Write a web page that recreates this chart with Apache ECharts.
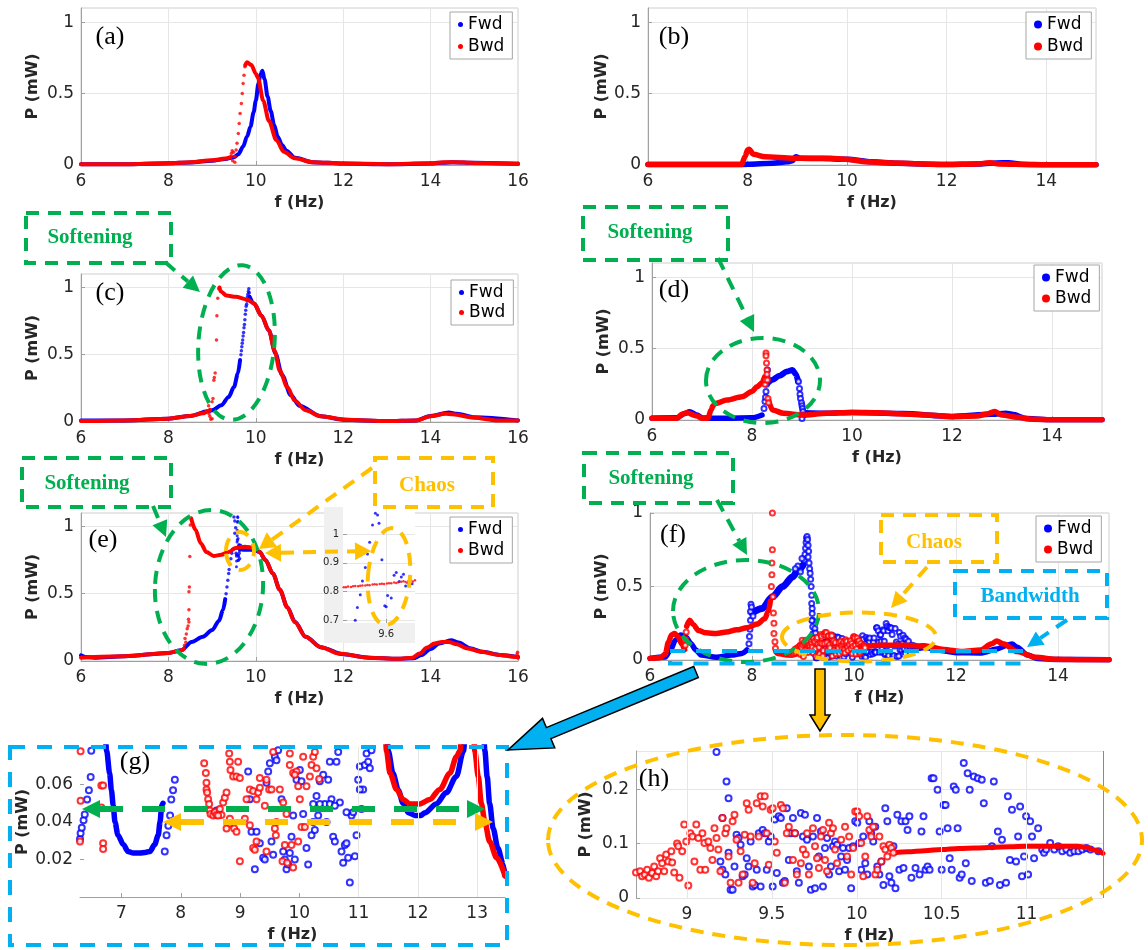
<!DOCTYPE html>
<html><head><meta charset="utf-8">
<script src="https://cdn.jsdelivr.net/npm/echarts@6/dist/echarts.min.js"></script>
<style>html,body{margin:0;padding:0;background:#fff}#c{width:1148px;height:950px}</style>
</head><body><div id="c"></div>
<script>
// ---------------- DATA (f in Hz, P in mW) ----------------
// (a)
const A_FWD = [[6,0.005],[7,0.005],[8,0.012],[8.5,0.018],[9,0.03],[9.3,0.042],[9.5,0.055],[9.6,0.075],[9.71,0.13],[9.8,0.2],[9.88,0.27],[9.95,0.37],[10.0,0.45],[10.06,0.57],[10.11,0.64],[10.15,0.66],[10.2,0.6],[10.27,0.48],[10.34,0.38],[10.42,0.28],[10.5,0.2],[10.6,0.14],[10.7,0.1],[10.9,0.05],[11.3,0.02],[12,0.01],[13,0.005],[14,0.01],[14.5,0.02],[15,0.015],[16,0.008]];
const A_BWD1 = [[6,0.006],[7,0.006],[8,0.012],[8.5,0.02],[9,0.033],[9.3,0.045],[9.42,0.055]];
const A_BWD_DOTS = [[9.44,0.08],[9.46,0.1],[9.47,0.03],[9.49,0.09],[9.5,0.06],[9.52,0.02],[9.53,0.058],[9.55,0.105],[9.57,0.152],[9.6,0.221],[9.62,0.291],[9.64,0.361],[9.67,0.431],[9.69,0.501],[9.71,0.571],[9.73,0.629],[9.75,0.688]];
const A_BWD2 = [[9.76,0.7],[9.8,0.72],[9.9,0.7],[10.0,0.64],[10.05,0.61],[10.17,0.45],[10.3,0.31],[10.47,0.175],[10.64,0.093],[10.89,0.047],[11.3,0.02],[12,0.01],[13,0.006],[14,0.012],[14.3,0.02],[14.6,0.02],[15,0.014],[16,0.008]];
// (b)
const B_FWD = [[6,0.003],[7,0.003],[7.9,0.003],[8.0,0.005],[8.5,0.012],[8.8,0.022],[8.9,0.03],[8.97,0.058],[9.05,0.047],[9.5,0.045],[10,0.04],[10.5,0.022],[11,0.012],[12,0.003],[12.6,0.007],[13.0,0.014],[13.25,0.016],[13.5,0.006],[14,0.002],[15,0.002]];
const B_BWD = [[6,0.003],[7,0.003],[7.88,0.003],[7.95,0.06],[8.0,0.105],[8.03,0.11],[8.12,0.075],[8.35,0.058],[8.93,0.047],[9.67,0.047],[9.96,0.04],[10.4,0.023],[10.77,0.016],[11.5,0.007],[12,0.003],[12.6,0.007],[12.87,0.016],[13.05,0.007],[13.7,0.002],[15,0.002]];
// (c)
const C_FWD1 = [[6,0.012],[7,0.012],[8,0.025],[8.5,0.045],[8.9,0.08],[9.0,0.087],[9.21,0.124],[9.38,0.186],[9.5,0.26],[9.59,0.36],[9.64,0.46]];
const C_FWD_DOTS = [[9.66,0.5],[9.67,0.53],[9.68,0.56],[9.69,0.585],[9.7,0.61],[9.71,0.64],[9.72,0.665],[9.73,0.7],[9.74,0.725],[9.75,0.76],[9.76,0.8],[9.77,0.83],[9.78,0.86],[9.79,0.875],[9.8,0.9],[9.81,0.93],[9.82,0.95],[9.83,0.97],[9.84,0.99],[9.85,0.96]];
const C_FWD2 = [[9.86,0.93],[9.96,0.88],[10.13,0.79],[10.3,0.68],[10.45,0.51],[10.6,0.35],[10.8,0.2],[11.0,0.12],[11.5,0.042],[12,0.017],[13,0.007],[13.67,0.012],[14,0.045],[14.42,0.07],[14.6,0.062],[15,0.035],[16,0.012]];
const C_BWD1 = [[6,0.007],[7,0.012],[8,0.025],[8.5,0.045],[8.8,0.065],[8.9,0.08],[8.95,0.09]];
const C_BWD_DOTS = [[8.92,0.12],[8.93,0.06],[8.95,0.04],[8.97,0.02],[9.0,0.025],[9.0,0.15],[9.02,0.174],[9.04,0.31],[9.05,0.33],[9.07,0.365],[9.1,0.61],[9.11,0.79],[9.13,0.92],[9.15,0.99]];
const C_BWD2 = [[9.17,1.0],[9.2,0.97],[9.33,0.94],[9.54,0.93],[9.8,0.91],[9.96,0.88],[10.13,0.79],[10.3,0.68],[10.43,0.53],[10.55,0.38],[10.72,0.26],[10.89,0.16],[11.14,0.087],[11.48,0.042],[12.07,0.017],[13,0.007],[13.67,0.012],[14,0.042],[14.34,0.062],[14.5,0.057],[15,0.032],[15.5,0.012],[16,0.012]];
// (d)
const D_FWD1 = [[6,0.012],[6.5,0.015],[6.65,0.045],[6.75,0.058],[6.9,0.035],[7.0,0.015],[7.2,0.012],[7.5,0.012],[8.0,0.015],[8.2,0.035]];
const D_FWD_DOTS = [[8.24,0.08],[8.26,0.13],[8.27,0.16],[8.28,0.2],[8.29,0.25],[8.3,0.3],[8.31,0.35],[8.93,0.27],[8.95,0.22],[8.96,0.18],[8.97,0.15],[8.99,0.12],[9.0,0.1],[9.01,0.08],[9.02,0.06],[9.03,0.035],[9.0,0.01]];
const D_FWD2 = [[8.32,0.26],[8.4,0.28],[8.55,0.31],[8.7,0.34],[8.81,0.35],[8.88,0.32],[8.92,0.27]];
const D_FWD3 = [[9.05,0.05],[9.5,0.047],[10,0.053],[11,0.045],[12,0.025],[12.8,0.04],[13.08,0.047],[13.2,0.04],[13.5,0.01],[14,0.002],[15,0.002]];
const D_BWD1 = [[6,0.012],[6.5,0.012],[6.6,0.04],[6.7,0.05],[6.9,0.028],[7.0,0.012],[7.12,0.012],[7.18,0.07],[7.22,0.1],[7.27,0.116],[7.5,0.14],[7.8,0.163],[8.0,0.2],[8.1,0.233],[8.2,0.26],[8.25,0.3]];
const D_BWD_DOTS = [[8.26,0.25],[8.27,0.28],[8.28,0.47],[8.28,0.45],[8.29,0.4],[8.3,0.35],[8.3,0.32],[8.31,0.28],[8.32,0.15],[8.33,0.12]];
const D_BWD2 = [[8.33,0.14],[8.41,0.07],[8.63,0.047],[9.0,0.035],[9.5,0.047],[10,0.053],[10.5,0.051],[11,0.042],[11.5,0.035],[12,0.023],[12.5,0.028],[12.7,0.042],[12.85,0.06],[13,0.035],[13.3,0.019],[13.6,0.005],[14,0.002],[15,0.002]];
// (e)
const E_FWD1 = [[6,0.042],[6.1,0.03],[6.3,0.025],[7,0.035],[8,0.06],[8.3,0.08],[8.53,0.142],[8.79,0.18],[9.0,0.23],[9.16,0.3],[9.25,0.38],[9.3,0.46]];
const E_FWD_DOTS = [[9.32,0.5],[9.34,0.55],[9.36,0.6],[9.38,0.65],[9.39,0.68],[9.41,0.72],[9.43,0.76],[9.45,0.8],[9.47,0.83],[9.5,1.07],[9.52,1.04],[9.52,0.95],[9.54,0.99],[9.55,0.8],[9.56,0.78],[9.58,0.9],[9.6,0.85],[9.62,0.8],[9.63,0.76],[9.65,0.86]];
const E_FWD2 = [[9.66,0.83],[9.75,0.826],[9.96,0.826],[10.09,0.81],[10.22,0.75],[10.39,0.65],[10.55,0.53],[10.72,0.4],[10.9,0.29],[11.14,0.18],[11.5,0.1],[12,0.05],[12.6,0.025],[13.25,0.017],[13.6,0.02],[13.8,0.045],[14.0,0.09],[14.2,0.13],[14.47,0.154],[14.64,0.137],[14.9,0.095],[15.2,0.068],[15.6,0.045],[16,0.03]];
const E_BWD1 = [[6,0.025],[7,0.035],[8,0.06],[8.2,0.072],[8.3,0.08],[8.35,0.09]];
const E_BWD_DOTS = [[8.37,0.117],[8.38,0.167],[8.4,0.14],[8.41,0.2],[8.43,0.24],[8.45,0.26],[8.46,0.31],[8.47,0.29],[8.47,0.38],[8.47,0.515],[8.48,0.55],[8.49,0.776],[8.5,1.01],[15.98,0.05],[15.99,0.065],[16,0.02]];
const E_BWD2 = [[8.52,1.06],[8.62,0.975],[8.74,0.875],[8.87,0.81],[9.04,0.78],[9.21,0.79],[9.38,0.81],[9.54,0.84],[9.75,0.85],[9.96,0.84],[10.09,0.81],[10.22,0.75],[10.39,0.65],[10.55,0.53],[10.72,0.4],[10.89,0.29],[11.14,0.18],[11.48,0.104],[11.9,0.055],[12.57,0.025],[13.25,0.017],[13.58,0.025],[13.75,0.055],[13.92,0.1],[14.09,0.13],[14.26,0.142],[14.42,0.142],[14.6,0.124],[14.85,0.092],[15.18,0.067],[15.52,0.047],[15.94,0.03],[16,0.03]];
// (e) inset
const E_INSET_FWD = [[9.557,0.700],[9.560,0.744],[9.564,0.789],[9.567,0.837],[9.571,0.884],[9.574,0.931],[9.577,0.972],[9.581,1.032],[9.585,1.073],[9.588,1.067],[9.590,1.038],[9.594,0.911],[9.598,0.750],[9.600,0.747],[9.602,0.786],[9.607,0.777],[9.611,0.857],[9.614,0.866],[9.618,0.835],[9.621,0.851],[9.624,0.860],[9.627,0.819],[9.630,0.830],[9.636,0.827]];
const E_INSET_BWD = [[9.541,0.815],[9.544,0.815],[9.547,0.817],[9.551,0.816],[9.554,0.818],[9.557,0.819],[9.561,0.818],[9.564,0.820],[9.567,0.821],[9.571,0.821],[9.574,0.823],[9.577,0.822],[9.581,0.824],[9.584,0.825],[9.587,0.824],[9.591,0.826],[9.594,0.827],[9.597,0.826],[9.601,0.828],[9.604,0.829],[9.607,0.829],[9.611,0.831],[9.614,0.830],[9.617,0.832],[9.621,0.834],[9.624,0.836],[9.627,0.833],[9.631,0.837],[9.634,0.838],[9.637,0.835],[9.640,0.839]];
// (f)
const F_FWD1 = [[6,0.011],[6.3,0.02],[6.4,0.068],[6.5,0.136],[6.6,0.17],[6.7,0.158],[6.8,0.113],[6.9,0.068],[7.0,0.034],[7.3,0.018],[7.6,0.034],[7.8,0.045],[7.9,0.068]];
const F_FWD_DOTS = [[7.94,0.11],[7.95,0.16],[7.96,0.21],[7.97,0.27],[7.97,0.33],[7.98,0.38],[7.99,0.36],[8.02,0.3],[9.02,0.68],[9.04,0.72],[9.05,0.76],[9.06,0.8],[9.07,0.83],[9.08,0.84],[9.09,0.82],[9.1,0.78],[9.11,0.74],[9.1,0.7],[9.12,0.66],[9.13,0.62],[9.14,0.59],[9.15,0.55],[9.16,0.5],[9.17,0.44],[9.17,0.385],[9.18,0.35],[9.18,0.317],[9.19,0.27],[9.19,0.226],[9.2,0.18],[9.2,0.136],[8.9,0.64],[8.95,0.6],[8.85,0.62],[8.98,0.69]];
const F_FWD2 = [[8.0,0.32],[8.2,0.35],[8.4,0.43],[8.6,0.5],[8.8,0.566],[8.9,0.61],[9.0,0.645]];
const F_FWD3 = [[11.4,0.09],[11.7,0.065],[12,0.05],[12.5,0.048],[12.8,0.075],[13.0,0.1],[13.1,0.108],[13.2,0.086],[13.4,0.034],[13.6,0.011],[14,0.003],[15,0.002]];
const F_BWD1 = [[6,0.011],[6.2,0.016],[6.3,0.04],[6.36,0.12],[6.42,0.17],[6.48,0.18],[6.55,0.16],[6.62,0.11],[6.68,0.07]];
const F_BWD_DOTS = [[6.69,0.1],[6.7,0.14],[6.71,0.19],[8.38,0.5],[8.39,0.58],[8.39,0.66],[8.4,0.75],[8.4,1.0],[8.41,0.43],[8.42,0.32],[8.43,0.25],[8.43,0.18],[8.45,0.124],[8.46,0.08]];
const F_BWD2 = [[6.72,0.23],[6.78,0.27],[6.85,0.24],[6.95,0.2],[7.1,0.185],[7.3,0.18],[7.5,0.19],[7.7,0.205],[7.9,0.22],[8.1,0.245],[8.25,0.28],[8.32,0.33],[8.36,0.4]];
const F_BWD3 = [[8.47,0.055],[8.5,0.045],[8.72,0.034],[8.93,0.045]];
const F_BWD4 = [[10.2,0.09],[10.5,0.1],[11.0,0.1],[11.4,0.095],[11.76,0.072],[12.12,0.057],[12.48,0.068],[12.7,0.11],[12.8,0.13],[12.92,0.11],[13.2,0.057],[13.57,0.018],[13.93,0.005],[14.5,0.002],[15,0.002]];
// (h) chaotic region, also used inside (f)
const H_FWD = [[9.174,0.268],[9.233,0.214],[9.245,0.183],[9.209,0.147],[9.197,0.067],[9.209,0.052],[9.226,0.043],[9.245,0.083],[9.257,0.015],[9.269,0.015],[9.280,0.058],[9.292,0.116],[9.304,0.110],[9.316,0.098],[9.328,0.040],[9.340,0.043],[9.352,0.073],[9.363,0.058],[9.375,0.104],[9.387,0.021],[9.399,0.024],[9.411,0.052],[9.423,0.119],[9.434,0.021],[9.446,0.125],[9.458,0.119],[9.470,0.052],[9.482,0.104],[9.493,0.113],[9.505,0.021],[9.517,0.144],[9.529,0.046],[9.541,0.150],[9.553,0.147],[9.565,0.028],[9.576,0.031],[9.588,0.165],[9.600,0.070],[9.612,0.119],[9.624,0.147],[9.636,0.119],[9.647,0.049],[9.659,0.028],[9.671,0.156],[9.683,0.113],[9.695,0.153],[9.707,0.107],[9.718,0.058],[9.730,0.015],[9.742,0.113],[9.754,0.018],[9.766,0.147],[9.777,0.076],[9.789,0.122],[9.801,0.021],[9.813,0.092],[9.825,0.110],[9.837,0.043],[9.848,0.058],[9.860,0.095],[9.872,0.104],[9.884,0.098],[9.896,0.049],[9.908,0.076],[9.919,0.092],[9.931,0.052],[9.943,0.070],[9.955,0.092],[9.967,0.018],[9.979,0.095],[9.991,0.141],[10.003,0.138],[10.014,0.101],[10.026,0.052],[10.038,0.113],[10.050,0.064],[10.062,0.043],[10.074,0.141],[10.085,0.119],[10.097,0.104],[10.109,0.131],[10.121,0.058],[10.133,0.043],[10.145,0.067],[10.157,0.024],[10.168,0.165],[10.180,0.141],[10.192,0.040],[10.204,0.028],[10.216,0.095],[10.228,0.018],[10.239,0.153],[10.251,0.052],[10.263,0.141],[10.275,0.055],[10.287,0.141],[10.299,0.125],[10.310,0.150],[10.322,0.037],[10.346,0.055],[10.370,0.043],[10.381,0.122],[10.393,0.150],[10.405,0.052],[10.417,0.058],[10.429,0.052],[10.441,0.220],[10.452,0.220],[10.476,0.199],[10.488,0.122],[10.500,0.052],[10.512,0.171],[10.523,0.171],[10.535,0.128],[10.547,0.073],[10.559,0.052],[10.571,0.205],[10.583,0.199],[10.594,0.128],[10.606,0.037],[10.618,0.043],[10.630,0.248],[10.642,0.064],[10.653,0.229],[10.665,0.199],[10.677,0.031],[10.689,0.223],[10.713,0.220],[10.736,0.217],[10.748,0.174],[10.760,0.028],[10.784,0.031],[10.796,0.095],[10.807,0.214],[10.831,0.122],[10.843,0.024],[10.855,0.107],[10.879,0.028],[10.890,0.187],[10.902,0.070],[10.914,0.162],[10.938,0.067],[10.950,0.113],[10.962,0.168],[10.973,0.040],[10.985,0.076],[10.997,0.150],[11.009,0.043],[11.021,0.141],[11.032,0.113],[11.044,0.073],[11.068,0.128],[11.092,0.089],[11.103,0.083],[11.115,0.089],[11.139,0.101],[11.163,0.089],[11.186,0.095],[11.210,0.086],[11.234,0.089],[11.257,0.083],[11.281,0.086],[11.305,0.086],[11.328,0.089],[11.352,0.092],[11.376,0.089],[11.423,0.086]];
const H_BWD = [[8.700,0.047],[8.724,0.049],[8.736,0.040],[8.752,0.043],[8.766,0.052],[8.776,0.037],[8.795,0.046],[8.807,0.058],[8.819,0.040],[8.830,0.049],[8.842,0.073],[8.854,0.064],[8.866,0.049],[8.878,0.080],[8.890,0.067],[8.908,0.086],[8.913,0.065],[8.925,0.047],[8.942,0.100],[8.949,0.095],[8.956,0.037],[8.972,0.086],[8.984,0.135],[8.996,0.104],[9.008,0.023],[9.020,0.119],[9.032,0.113],[9.044,0.067],[9.055,0.135],[9.067,0.110],[9.079,0.052],[9.091,0.119],[9.103,0.101],[9.108,0.052],[9.126,0.104],[9.138,0.092],[9.150,0.070],[9.162,0.128],[9.174,0.110],[9.185,0.089],[9.197,0.049],[9.209,0.147],[9.226,0.119],[9.233,0.128],[9.245,0.076],[9.257,0.028],[9.269,0.141],[9.280,0.153],[9.292,0.107],[9.304,0.028],[9.316,0.086],[9.328,0.043],[9.340,0.116],[9.352,0.174],[9.363,0.162],[9.375,0.113],[9.387,0.028],[9.399,0.064],[9.411,0.174],[9.423,0.113],[9.434,0.187],[9.446,0.168],[9.458,0.187],[9.470,0.119],[9.482,0.061],[9.493,0.162],[9.505,0.165],[9.517,0.104],[9.529,0.083],[9.553,0.171],[9.565,0.165],[9.576,0.028],[9.588,0.119],[9.600,0.131],[9.624,0.070],[9.636,0.119],[9.647,0.043],[9.671,0.064],[9.683,0.089],[9.700,0.080],[9.707,0.119],[9.718,0.043],[9.742,0.128],[9.754,0.095],[9.766,0.073],[9.777,0.055],[9.789,0.113],[9.801,0.125],[9.813,0.070],[9.825,0.049],[9.837,0.138],[9.848,0.119],[9.860,0.128],[9.872,0.089],[9.884,0.064],[9.908,0.107],[9.931,0.131],[9.943,0.076],[9.955,0.113],[9.967,0.043],[9.979,0.092],[9.991,0.159],[10.003,0.159],[10.014,0.150],[10.026,0.101],[10.038,0.040],[10.050,0.076],[10.062,0.150],[10.074,0.125],[10.085,0.113],[10.097,0.131],[10.109,0.043],[10.121,0.052],[10.133,0.113],[10.145,0.067],[10.157,0.095],[10.168,0.089],[10.180,0.076],[10.192,0.098],[10.204,0.092],[10.216,0.083]];
const H_BWD_LINE = [[10.22,0.083],[10.3,0.085],[10.4,0.087],[10.5,0.089],[10.6,0.091],[10.7,0.092],[10.8,0.093],[10.9,0.094],[11.0,0.095],[11.1,0.095],[11.2,0.095],[11.3,0.095],[11.35,0.093],[11.4,0.088],[11.45,0.082]];
// (g) zoom of (f) at low power
const G_FWD_PTS = [[6.30,0.031],[6.31,0.034],[6.33,0.037],[6.36,0.041],[6.38,0.044],[6.42,0.052],[6.45,0.057],[6.48,0.064],[6.49,0.078],[7.73,0.0243],[7.76,0.033],[7.79,0.038],[7.82,0.0435],[7.84,0.052],[7.87,0.057],[7.90,0.0626]];
const G_FWD_CHAOS = [[8.603,0.0461],[9.137,0.0670],[9.165,0.0522],[9.193,0.0348],[9.250,0.0148],[9.278,0.0348],[9.334,0.0287],[9.390,0.0209],[9.418,0.0200],[9.446,0.0609],[9.475,0.0670],[9.503,0.0713],[9.531,0.0296],[9.559,0.0226],[9.587,0.0748],[9.615,0.0730],[9.643,0.0783],[9.700,0.0522],[9.728,0.0243],[9.756,0.0200],[9.784,0.0148],[9.812,0.0174],[9.840,0.0235],[9.868,0.0322],[9.896,0.0435],[9.924,0.0200],[9.953,0.0626],[10.009,0.0678],[10.037,0.0617],[10.065,0.0443],[10.121,0.0261],[10.149,0.0174],[10.206,0.0330],[10.234,0.0400],[10.262,0.0357],[10.290,0.0539],[10.318,0.0435],[10.346,0.0617],[10.403,0.0652],[10.431,0.0496],[10.459,0.0400],[10.487,0.0626],[10.515,0.0722],[10.543,0.0522],[10.571,0.0322],[10.599,0.0296],[10.627,0.0722],[10.656,0.0774],[10.684,0.0504],[10.712,0.0243],[10.740,0.0183],[10.768,0.0278],[10.796,0.0287],[10.824,0.0209],[10.852,0.0078],[10.881,0.0435],[10.909,0.0452],[10.937,0.0217],[10.965,0.0330],[10.993,0.0626],[11.021,0.0696],[11.049,0.0470],[11.077,0.0574],[11.106,0.0704],[11.134,0.0765],[11.162,0.0722],[11.190,0.0687],[11.218,0.0783],[10.234,0.0496],[10.346,0.0496],[10.515,0.0496],[10.599,0.0487],[10.796,0.0452],[11.021,0.0574]];
const G_FWD_U1 = [[6.72,0.09],[6.75,0.078],[6.80,0.066],[6.83,0.057],[6.86,0.049],[6.89,0.040],[6.94,0.033],[7.03,0.028],[7.11,0.0243],[7.2,0.0235],[7.31,0.0235],[7.40,0.0238],[7.48,0.0243],[7.56,0.028],[7.62,0.033],[7.65,0.040],[7.68,0.049],[7.70,0.050]];
const G_FWD_U2 = [[11.48,0.09],[11.50,0.078],[11.58,0.066],[11.67,0.057],[11.75,0.050],[11.84,0.045],[11.95,0.0435],[12.05,0.0435],[12.12,0.045],[12.31,0.0496],[12.48,0.0557],[12.65,0.0643],[12.77,0.078],[12.80,0.09]];
const G_FWD_R = [[13.11,0.09],[13.13,0.078],[13.17,0.064],[13.21,0.050],[13.27,0.0365],[13.35,0.026],[13.44,0.0174],[13.47,0.0113]];
const G_BWD_PTS = [[6.31,0.0777],[6.31,0.0513],[6.30,0.0296],[6.66,0.0595],[6.69,0.0595],[6.66,0.0478],[6.69,0.0287],[6.69,0.0256]];
const G_BWD_CHAOS = [[8.395,0.0713],[8.423,0.0661],[8.434,0.0609],[8.434,0.0574],[8.445,0.0557],[8.462,0.0522],[8.479,0.0496],[8.490,0.0461],[8.502,0.0443],[8.547,0.0435],[8.575,0.0452],[8.603,0.0438],[8.659,0.0470],[8.687,0.0438],[8.715,0.0504],[8.743,0.0530],[8.772,0.0557],[8.817,0.0765],[8.828,0.0722],[8.839,0.0678],[8.884,0.0643],[8.940,0.0643],[8.997,0.0635],[8.968,0.0722],[8.901,0.0365],[8.817,0.0391],[8.828,0.0417],[8.940,0.0348],[8.997,0.0191],[9.109,0.0522],[9.165,0.0574],[9.221,0.0565],[9.278,0.0522],[9.306,0.0557],[9.334,0.0583],[9.221,0.0261],[9.250,0.0252],[9.334,0.0635],[9.418,0.0487],[9.446,0.0626],[9.491,0.0574],[9.559,0.0774],[9.587,0.0365],[9.615,0.0400],[9.604,0.0330],[9.728,0.0504],[9.756,0.0278],[9.784,0.0443],[9.840,0.0704],[9.896,0.0661],[9.953,0.0670],[9.981,0.0591],[10.009,0.0522],[10.037,0.0374],[10.093,0.0374],[10.121,0.0591],[10.178,0.0643],[10.206,0.0704],[10.234,0.0748],[10.262,0.0774],[10.065,0.0748],[9.981,0.0296],[9.868,0.0278],[9.924,0.0652],[9.446,0.0243],[9.165,0.0383],[9.081,0.0417],[9.278,0.0296],[8.772,0.0365],[8.631,0.0435],[10.290,0.0687],[10.335,0.0630],[9.840,0.0765],[9.531,0.0574],[9.671,0.0574],[9.716,0.0191],[9.795,0.0183],[9.896,0.0157]];
const G_BWD_U = [[11.45,0.09],[11.47,0.078],[11.53,0.066],[11.64,0.0574],[11.75,0.052],[11.87,0.0496],[12.03,0.0496],[12.2,0.052],[12.37,0.0574],[12.54,0.066],[12.65,0.0748],[12.71,0.078],[12.74,0.09]];
const G_BWD_R = [[12.94,0.09],[12.96,0.078],[13.02,0.064],[13.07,0.050],[13.13,0.040],[13.21,0.0296],[13.33,0.0209],[13.47,0.0113]];
// tick labels
const X_TICKS_G = [7,8,9,10,11,12,13];
const X_TICKS_H = [9,9.5,10,10.5,11];
const X_TICKS_IN = [9.6];
const Y_TICKS_IN = [0.7,0.8,0.9,1];

// ---------------- STYLE / LAYOUT ----------------
const BLUE='#0000ff', RED='#ff0000', GREEN='#00b050', ORANGE='#ffc000', CYAN='#00b0f0';
const AF='DejaVu Sans', TXT='#262626', AXC='#a0a0a0', GRC='#e6e6e6';
const GRIDS = [
 {left:81, top:8, width:437, height:157},
 {left:648, top:8, width:448, height:157},
 {left:81, top:274, width:437, height:148},
 {left:652, top:263, width:450, height:157},
 {left:81, top:513, width:437, height:148},
 {left:650, top:513, width:459, height:147},
 {left:80, top:747, width:425, height:150},
 {left:636, top:751, width:467, height:147},
 {left:343, top:507, width:72, height:116}
];
function mkX(gi,o){
  const a={type:'value',gridIndex:gi,min:o.min,max:o.max,name:o.noName?'':'f (Hz)',nameLocation:'middle',nameGap:30,
    nameTextStyle:{fontFamily:AF,fontWeight:'bold',fontSize:16,color:TXT},
    axisLine:{show:o.line!==false,onZero:false,lineStyle:{color:AXC}},
    axisTick:{show:true,inside:true,length:4,lineStyle:{color:AXC}},
    axisLabel:{fontFamily:AF,fontSize:o.fs||17,color:TXT,margin:o.margin||8},
    splitLine:{show:o.split!==false,lineStyle:{color:GRC,width:1}}, z:o.z||0};
  if(o.interval) a.interval=o.interval;
  if(o.cv){a.axisLabel.customValues=o.cv;a.axisTick.customValues=o.cv;}
  if(o.hideMax) a.axisLabel.showMaxLabel=false;
  return a;
}
function mkY(gi,o){
  const a={type:'value',gridIndex:gi,min:o.min,max:o.max,name:o.noName?'':'P (mW)',nameLocation:'middle',nameGap:o.gap||40,
    nameTextStyle:{fontFamily:AF,fontWeight:'bold',fontSize:16,color:TXT},
    axisLine:{show:o.line!==false,lineStyle:{color:AXC}},
    axisTick:{show:true,inside:true,length:4,lineStyle:{color:AXC}},
    axisLabel:{fontFamily:AF,fontSize:o.fs||17,color:TXT,margin:o.margin||7},
    splitLine:{show:o.split!==false,lineStyle:{color:GRC,width:1}}, z:o.z||0};
  if(o.interval) a.interval=o.interval;
  if(o.cv){a.axisLabel.customValues=o.cv;a.axisTick.customValues=o.cv;}
  if(o.hideMax) a.axisLabel.showMaxLabel=false;
  if(o.hideMin) a.axisLabel.showMinLabel=false;
  return a;
}
const xAxes=[
 mkX(0,{min:6,max:16,interval:2}), mkX(1,{min:6,max:15,interval:2,hideMax:true}),
 mkX(2,{min:6,max:16,interval:2}), mkX(3,{min:6,max:15,interval:2,hideMax:true}),
 mkX(4,{min:6,max:16,interval:2}), mkX(5,{min:6,max:15,interval:2,hideMax:true}),
 mkX(6,{min:6.3,max:13.47,cv:X_TICKS_G,split:false}),
 mkX(7,{min:8.7,max:11.45,cv:X_TICKS_H,split:false,line:false}),
 mkX(8,{min:9.54,max:9.64,cv:X_TICKS_IN,split:false,line:false,noName:true,fs:10,margin:6,z:6})
];
const yAxes=[
 mkY(0,{min:0,max:1.1,interval:0.5,hideMax:true}), mkY(1,{min:0,max:1.1,interval:0.5,hideMax:true,gap:38}),
 mkY(2,{min:0,max:1.1,interval:0.5,hideMax:true}), mkY(3,{min:0,max:1.1,interval:0.5,hideMax:true}),
 mkY(4,{min:0,max:1.1,interval:0.5,hideMax:true}), mkY(5,{min:0,max:1,interval:0.5}),
 mkY(6,{min:0,max:0.08,interval:0.02,hideMax:true,hideMin:true,split:false,line:false,gap:42}),
 mkY(7,{min:0,max:0.27,interval:0.1,hideMax:true,gap:42}),
 mkY(8,{min:0.69,max:1.095,cv:Y_TICKS_IN,split:false,line:false,noName:true,fs:10,margin:4,z:6})
];

const series=[];
function col(n){return n==='Fwd'?BLUE:RED;}
function L(gi,n,data,w){series.push({type:'line',name:n,xAxisIndex:gi,yAxisIndex:gi,data,symbol:'none',showSymbol:false,smooth:0.3,smoothMonotone:'x',
  lineStyle:{color:col(n),width:w,cap:'round',join:'round'},itemStyle:{color:col(n)},z:n==='Fwd'?3:4,silent:true,animation:false});}
function D(gi,n,data,size,ring,z){series.push({type:'scatter',name:n,xAxisIndex:gi,yAxisIndex:gi,data,symbol:ring?'emptyCircle':'circle',symbolSize:size,
  itemStyle:ring?{color:col(n),borderColor:col(n),borderWidth:2}:{color:col(n)},z:z||(n==='Fwd'?3:4),silent:true,animation:false});}
function GL(gi,xs,ys,extra){series.push({type:'scatter',xAxisIndex:gi,yAxisIndex:gi,data:[],silent:true,z:1,
  markLine:{silent:true,symbol:['none','none'],animation:false,label:{show:false},lineStyle:{color:GRC,type:'solid',width:1},
  data:[...xs.map(v=>({xAxis:v})),...ys.map(v=>({yAxis:v})),...(extra||[])]}});}

// (a)
L(0,'Fwd',A_FWD,4); L(0,'Bwd',A_BWD1,4); D(0,'Bwd',A_BWD_DOTS,3.5); L(0,'Bwd',A_BWD2,4);
// (b)
L(1,'Fwd',B_FWD,5.5); L(1,'Bwd',B_BWD,5.5);
// (c)
L(2,'Fwd',C_FWD1,4); D(2,'Fwd',C_FWD_DOTS,3.5); L(2,'Fwd',C_FWD2,4);
L(2,'Bwd',C_BWD1,4); D(2,'Bwd',C_BWD_DOTS,3.5); L(2,'Bwd',C_BWD2,4);
// (d)
L(3,'Fwd',D_FWD1,5.5); D(3,'Fwd',D_FWD_DOTS,5,true); L(3,'Fwd',D_FWD2,6); L(3,'Fwd',D_FWD3,5.5);
L(3,'Bwd',D_BWD1,5.5); D(3,'Bwd',D_BWD_DOTS,5,true); L(3,'Bwd',D_BWD2,5.5);
// (e)
L(4,'Fwd',E_FWD1,4); D(4,'Fwd',E_FWD_DOTS,3.5); D(4,'Fwd',E_INSET_FWD,3); L(4,'Fwd',E_FWD2,4);
L(4,'Bwd',E_BWD1,4); D(4,'Bwd',E_BWD_DOTS,3.5); L(4,'Bwd',E_BWD2,4);
// (e) inset
GL(8,X_TICKS_IN,Y_TICKS_IN);
D(8,'Fwd',E_INSET_FWD,3,false,7); D(8,'Bwd',E_INSET_BWD,2.5,false,8);
// (f)
L(5,'Fwd',F_FWD1,5.5); D(5,'Fwd',F_FWD_DOTS,5,true); L(5,'Fwd',F_FWD2,7); D(5,'Fwd',H_FWD,5,true); L(5,'Fwd',F_FWD3,5.5);
L(5,'Bwd',F_BWD1,5.5); D(5,'Bwd',F_BWD_DOTS,5,true); L(5,'Bwd',F_BWD2,5.5); L(5,'Bwd',F_BWD3,5.5); D(5,'Bwd',H_BWD,5,true); L(5,'Bwd',F_BWD4,5.5);
// (g)
GL(6,[11,12,13],[]);
D(6,'Fwd',G_FWD_PTS,6,true); D(6,'Fwd',G_FWD_CHAOS,6,true); L(6,'Fwd',G_FWD_U1,5.5); L(6,'Fwd',G_FWD_U2,5.5); L(6,'Fwd',G_FWD_R,5.5);
D(6,'Bwd',G_BWD_PTS,6,true); D(6,'Bwd',G_BWD_CHAOS,6,true); L(6,'Bwd',G_BWD_U,5.5); L(6,'Bwd',G_BWD_R,5.5);
// (h)
GL(7,[9,9.5,10,10.5,11],[],[{xAxis:11.45,lineStyle:{color:'#8a8a8a',width:1}}]);
D(7,'Fwd',H_FWD,6,true); D(7,'Bwd',H_BWD,6,true); L(7,'Bwd',H_BWD_LINE,5);

// legends
function lg(left,top,size,gap){return {data:['Fwd','Bwd'],orient:'vertical',left,top,icon:'circle',itemWidth:size,itemHeight:size,itemGap:gap,
  padding:[4,8,4,8],backgroundColor:'#fff',borderColor:'#a6a6a6',borderWidth:1,textStyle:{fontFamily:AF,fontSize:17,color:'#000'},selectedMode:false,z:10};}
const legends=[lg(450,12,5,5),lg(1026,12,8,5),lg(451,280,5,3),lg(1034,265,8,4),lg(450,517,5,4),lg(1036,516,8,4)];

// ---------------- ANNOTATIONS ----------------
const GR=[];
const DASH=[13,9], FANN='bold 21px "Liberation Serif"', FLAB='26px "Liberation Serif"';
function dbox(x,y,w,h,c,dash){GR.push({type:'rect',shape:{x,y,width:w,height:h},style:{fill:'none',stroke:c,lineWidth:4,lineDash:dash||DASH},z:20,silent:true});}
function txt(x,y,s,c,font){GR.push({type:'text',x,y,style:{text:s,fill:c,font,textAlign:'center',textVerticalAlign:'middle',align:'center',verticalAlign:'middle'},z:21,silent:true});}
function ell(cx,cy,rx,ry,rot,c){GR.push({type:'ellipse',x:cx,y:cy,rotation:rot,shape:{cx:0,cy:0,rx,ry},style:{fill:'none',stroke:c,lineWidth:4,lineDash:DASH},z:20,silent:true});}
function unit(a,b){const dx=b[0]-a[0],dy=b[1]-a[1],d=Math.hypot(dx,dy);return [dx/d,dy/d];}
function headPts(t,u,Lh,W){const bx=t[0]-u[0]*Lh,by=t[1]-u[1]*Lh;return [[t[0],t[1]],[bx-u[1]*W,by+u[0]*W],[bx+u[1]*W,by-u[0]*W]];}
function darr(from,tip,c,o){o=o||{};const Lh=o.L||16,W=o.W||8,u=unit(from,tip);
  const s=o.both?[from[0]+u[0]*Lh,from[1]+u[1]*Lh]:from, e=[tip[0]-u[0]*Lh,tip[1]-u[1]*Lh];
  GR.push({type:'line',shape:{x1:s[0],y1:s[1],x2:e[0],y2:e[1]},style:{stroke:c,lineWidth:o.lw||4,lineDash:o.dash||DASH},z:20,silent:true});
  GR.push({type:'polygon',shape:{points:headPts(tip,u,Lh,W)},style:{fill:c},z:20,silent:true});
  if(o.both)GR.push({type:'polygon',shape:{points:headPts(from,[-u[0],-u[1]],Lh,W)},style:{fill:c},z:20,silent:true});}
function barr(tail,tip,fill,s,h,Lh){const u=unit(tail,tip),px=-u[1],py=u[0],b=[tip[0]-u[0]*Lh,tip[1]-u[1]*Lh];
  const pts=[[tail[0]+px*s,tail[1]+py*s],[b[0]+px*s,b[1]+py*s],[b[0]+px*h,b[1]+py*h],[tip[0],tip[1]],[b[0]-px*h,b[1]-py*h],[b[0]-px*s,b[1]-py*s],[tail[0]-px*s,tail[1]-py*s]];
  GR.push({type:'polygon',shape:{points:pts},style:{fill,stroke:'#000',lineWidth:1.5},z:22,silent:true});}

// inset background
GR.push({type:'rect',shape:{x:324,y:507,width:91,height:136},style:{fill:'#f0f0f0'},z:1,silent:true});
GR.push({type:'rect',shape:{x:343,y:507,width:72,height:116},style:{fill:'#ffffff'},z:1,silent:true});

// Softening
dbox(26,213,145,50,GREEN); txt(90,238,'Softening',GREEN,FANN); darr([165,262],[200,292],GREEN); ell(236.5,342.5,38,77.5,-0.08,GREEN);
dbox(583,207,145,53,GREEN); txt(650,233,'Softening',GREEN,FANN); darr([718,258],[754,332],GREEN); ell(763,380.5,57,42.5,0,GREEN);
dbox(22,458,149,49,GREEN); txt(87,484,'Softening',GREEN,FANN); darr([153,506],[166,537],GREEN); ell(209,587,54,77,-0.06,GREEN);
dbox(584,453,149,50,GREEN); txt(651,479,'Softening',GREEN,FANN); darr([717,500],[747,555],GREEN); ell(746,611,73,51,0,GREEN);
// Chaos
ell(240,551,14,19,0,ORANGE);
dbox(375,458,118,49,ORANGE); txt(427,486,'Chaos',ORANGE,FANN);
darr([372,468],[259,549],ORANGE,{L:16,W:9}); darr([265,553],[371,551],ORANGE,{L:16,W:9,both:true});
ell(389,576.5,21,48.5,-0.08,ORANGE);
dbox(881,515,116,47,ORANGE); txt(934,543,'Chaos',ORANGE,FANN); darr([927,567],[891,608],ORANGE);
ell(859,637,77,24.5,0,ORANGE);
ell(845,840,297,105,0,ORANGE);
barr([820,669],[820,731],ORANGE,5,10,16);
// Bandwidth
dbox(955,571,152,47,CYAN); txt(1030,597,'Bandwidth',CYAN,FANN); darr([1067,620],[1027,647],CYAN);
dbox(670,651,351,12.5,CYAN,[15,11]);
dbox(10,747,497,198,CYAN,[15,12]);
barr([696,672],[508,750],CYAN,6,16,44);
// (g) level arrows
darr([82,809],[485,809],GREEN,{L:18,W:9,lw:6,dash:[23,19],both:true});
darr([163,822],[493,822],ORANGE,{L:18,W:9,lw:6,dash:[23,19],both:true});
// panel labels
[['(a)',110,37],['(b)',674,37],['(c)',110,293],['(d)',674,290],['(e)',103,540],['(f)',673,535],['(g)',135,762],['(h)',654,779]]
  .forEach(p=>txt(p[1],p[2],p[0],'#000',FLAB));

const chart=echarts.init(document.getElementById('c'),null,{renderer:'canvas'});
chart.setOption({
  animation:false, backgroundColor:'#fff',
  grid:GRIDS.map((g,i)=>Object.assign({show:i<6,borderColor:'#cfcfcf',borderWidth:1,backgroundColor:'transparent'},g)),
  xAxis:xAxes, yAxis:yAxes, legend:legends, series, graphic:GR
});
</script></body></html>
